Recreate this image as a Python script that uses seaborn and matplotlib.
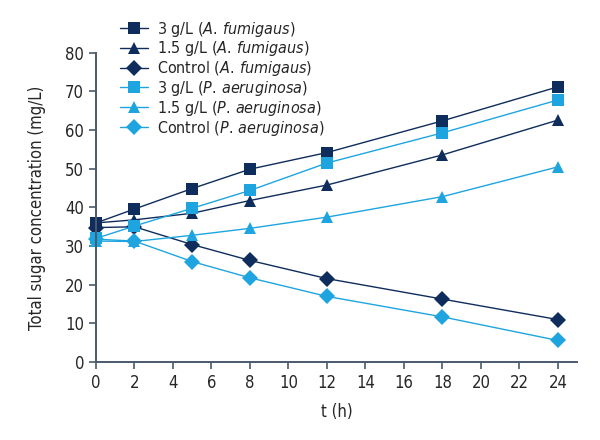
import matplotlib
matplotlib.use("Agg")
import pandas as pd
import matplotlib.pyplot as plt
import seaborn as sns

# time points (h)
hours = [0, 2, 5, 8, 12, 18, 24]

# total sugar concentration (mg/L)
af_3g = [36.0, 39.6, 44.9, 49.9, 54.2, 62.4, 71.2]
af_15g = [36.0, 36.8, 38.5, 41.8, 45.8, 53.6, 62.6]
af_ctrl = [34.8, 35.0, 30.4, 26.3, 21.6, 16.3, 11.0]
pa_3g = [32.0, 35.2, 39.8, 44.4, 51.5, 59.3, 67.8]
pa_15g = [31.3, 31.2, 32.8, 34.6, 37.5, 42.8, 50.5]
pa_ctrl = [31.8, 31.3, 26.0, 21.8, 17.0, 11.7, 5.6]

labels = [
    "3 g/L ($\\mathit{A.\\,fumigaus}$)",
    "1.5 g/L ($\\mathit{A.\\,fumigaus}$)",
    "Control ($\\mathit{A.\\,fumigaus}$)",
    "3 g/L ($\\mathit{P.\\,aeruginosa}$)",
    "1.5 g/L ($\\mathit{P.\\,aeruginosa}$)",
    "Control ($\\mathit{P.\\,aeruginosa}$)",
]
series = [af_3g, af_15g, af_ctrl, pa_3g, pa_15g, pa_ctrl]

dark = "#0f2d5c"
light = "#1ea5e0"
colors = dict(zip(labels, [dark, dark, dark, light, light, light]))
markers = dict(zip(labels, ["s", "^", "D", "s", "^", "D"]))

df = pd.concat(
    [pd.DataFrame({"t": hours, "sugar": vals, "series": lab}) for lab, vals in zip(labels, series)],
    ignore_index=True,
)

sns.set_style("ticks")
plt.rcParams["font.family"] = ["DejaVu Sans"]
plt.rcParams["font.stretch"] = "condensed"
plt.rcParams["mathtext.fontset"] = "custom"
plt.rcParams["mathtext.rm"] = "DejaVu Sans"
plt.rcParams["mathtext.it"] = "DejaVu Sans:italic"

fig = plt.figure(figsize=(6, 4.4), dpi=100)
ax = fig.add_axes([0.16, 0.177, 0.802, 0.703])

sns.lineplot(
    data=df, x="t", y="sugar", hue="series", style="series",
    palette=colors, markers=markers, dashes=False, markersize=8,
    markeredgewidth=0, linewidth=1.0, ax=ax, clip_on=False,
)

ax.set_xlim(0, 25)
ax.set_ylim(0, 80)
ax.set_xticks(range(0, 25, 2))
ax.set_yticks(range(0, 81, 10))
ax.set_xlabel("t (h)", fontsize=12, labelpad=8)
ax.set_ylabel("Total sugar concentration (mg/L)", fontsize=12, labelpad=14)
ax.tick_params(labelsize=12, length=5, width=1.2, color="#4a5a6a")
for s in ["top", "right"]:
    ax.spines[s].set_visible(False)
for s in ["left", "bottom"]:
    ax.spines[s].set_color("#4a5a6a")
    ax.spines[s].set_linewidth(1.4)

ax.legend(
    loc="upper left", bbox_to_anchor=(0.19, 0.97), bbox_transform=fig.transFigure,
    frameon=False, fontsize=11.5, handlelength=1.7, labelspacing=0.05,
    handletextpad=0.6, borderaxespad=0,
)

fig.savefig("out.png", dpi=100)
